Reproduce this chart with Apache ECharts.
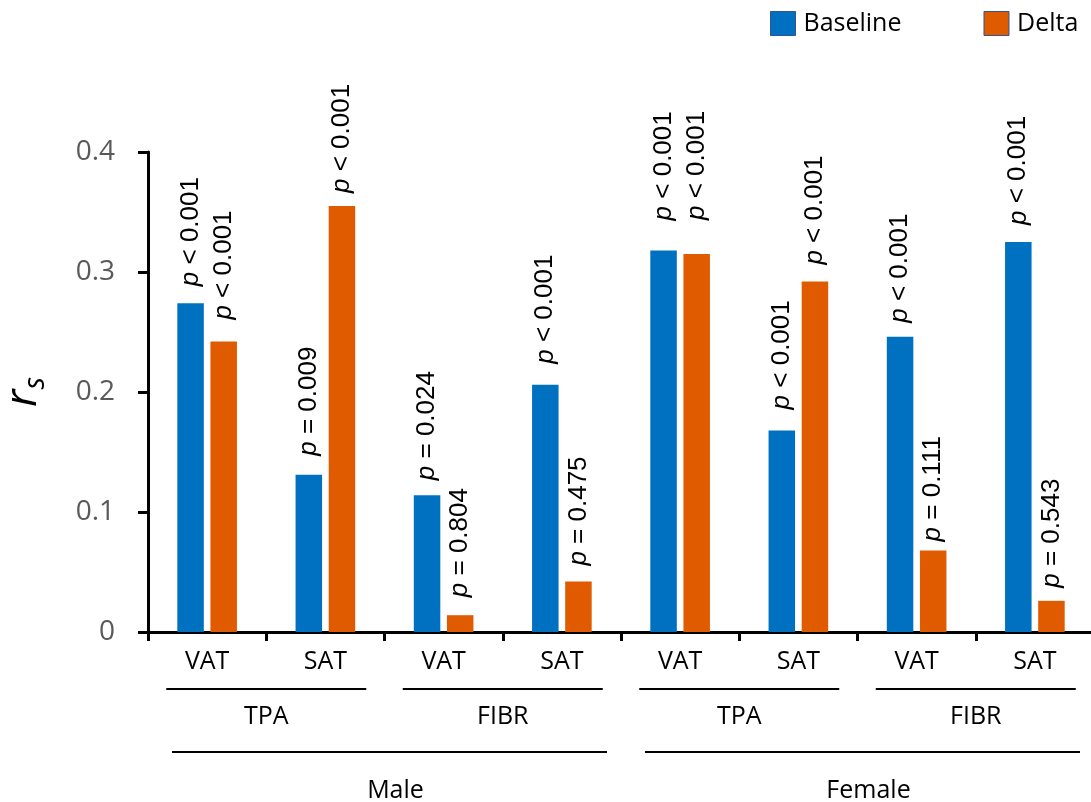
<!DOCTYPE html>
<html>
<head>
<meta charset="utf-8">
<script src="https://cdn.jsdelivr.net/npm/echarts@6/dist/echarts.min.js"></script>
<style>
  html, body { margin: 0; padding: 0; background: #ffffff; }
  #chart { width: 1091px; height: 802px; }
</style>
</head>
<body>
<div id="chart"></div>
<script>
// Spearman correlations of adipose tissue measures, by sex and method
const categories = ['VAT', 'SAT', 'VAT', 'SAT', 'VAT', 'SAT', 'VAT', 'SAT'];
const subGroups = ['TPA', 'FIBR', 'TPA', 'FIBR'];
const groups = ['Male', 'Female'];
const seriesNames = ['Baseline', 'Delta'];
const baseline = [0.274, 0.131, 0.114, 0.206, 0.318, 0.168, 0.246, 0.325];
const delta = [0.242, 0.355, 0.014, 0.042, 0.315, 0.292, 0.068, 0.026];
const baselineP = ['< 0.001', '= 0.009', '= 0.024', '< 0.001', '< 0.001', '< 0.001', '< 0.001', '< 0.001'];
const deltaP = ['< 0.001', '< 0.001', '= 0.804', '= 0.475', '< 0.001', '< 0.001', '= 0.111', '= 0.543'];
const yTicks = [0, 0.1, 0.2, 0.3, 0.4];

// space between a bar top and its rotated p-value text (px)
const baselineLabelGap = [17, 19, 15, 21, 30, 21, 14, 17];
const deltaLabelGap = [22, 13, 18, 16, 34, 17, 9, 13];

const BLUE = '#0070C0';
const ORANGE = '#E05A00';
const UI_FONT = '"Open Sans", "Noto Sans", sans-serif';
const P_FONT = '"Liberation Sans", Arial, sans-serif';

function barData(values, gaps) {
  return values.map((v, i) => ({ value: v, label: { distance: gaps[i] } }));
}

function pLabel(pTexts) {
  return {
    show: true,
    position: 'top',
    rotate: 90,
    align: 'left',
    verticalAlign: 'middle',
    color: '#000',
    fontFamily: P_FONT,
    fontSize: 26,
    formatter: (p) => '{i|p} ' + pTexts[p.dataIndex],
    rich: {
      i: { fontStyle: 'italic', fontFamily: P_FONT, fontSize: 26, color: '#000' }
    }
  };
}

const chart = echarts.init(document.getElementById('chart'), null, { renderer: 'canvas' });

const option = {
  animation: false,
  backgroundColor: '#ffffff',
  legend: {
    data: seriesNames,
    left: 770,
    top: 11,
    padding: 0,
    icon: 'rect',
    itemWidth: 25,
    itemHeight: 24,
    itemGap: 82,
    itemStyle: { borderColor: '#2F5597', borderWidth: 1 },
    textStyle: { fontFamily: UI_FONT, fontSize: 25, color: '#000', padding: [0, 0, 0, 3] }
  },
  grid: { left: 148, top: 152, width: 946, height: 480, containLabel: false, outerBoundsMode: 'none' },
  xAxis: {
    type: 'category',
    data: categories,
    axisLine: { lineStyle: { color: '#000', width: 3 } },
    axisTick: { show: true, length: 9, lineStyle: { color: '#000', width: 3 } },
    axisLabel: { fontFamily: UI_FONT, fontSize: 25, color: '#000', margin: 17, interval: 0 }
  },
  yAxis: {
    type: 'value',
    min: yTicks[0],
    max: yTicks[yTicks.length - 1],
    interval: yTicks[1] - yTicks[0],
    splitLine: { show: false },
    axisLine: { show: true, lineStyle: { color: '#000', width: 3 } },
    axisTick: { show: true, length: 10, lineStyle: { color: '#000', width: 3 } },
    axisLabel: { fontFamily: UI_FONT, fontSize: 28, color: '#595959', margin: 33 },
    name: '{r|r}{s|s}',
    nameLocation: 'middle',
    nameRotate: 90,
    nameGap: 98,
    nameTextStyle: {
      rich: {
        r: { fontFamily: UI_FONT, fontStyle: 'italic', fontSize: 44, color: '#000' },
        s: { fontFamily: UI_FONT, fontStyle: 'italic', fontSize: 29, color: '#000', verticalAlign: 'bottom', padding: [24, 0, 0, 0] }
      }
    }
  },
  series: [
    {
      name: seriesNames[0],
      type: 'bar',
      data: barData(baseline, baselineLabelGap),
      barWidth: 26.5,
      barGap: '25%',
      itemStyle: { color: BLUE },
      label: pLabel(baselineP)
    },
    {
      name: seriesNames[1],
      type: 'bar',
      data: barData(delta, deltaLabelGap),
      barWidth: 26.5,
      itemStyle: { color: ORANGE },
      label: pLabel(deltaP)
    }
  ]
};

chart.setOption(option);

// Nested group captions under the category axis, positioned from the axis scale
function drawGroupCaptions() {
  const xAt = (i) => chart.convertToPixel({ xAxisIndex: 0 }, i);
  const y0 = chart.convertToPixel({ yAxisIndex: 0 }, 0);
  const band = xAt(1) - xAt(0);
  const elements = [];
  const caption = (text, x, y) => ({
    type: 'text',
    style: { text, x, y, align: 'center', verticalAlign: 'middle', fontFamily: UI_FONT, fontSize: 25, fill: '#000' }
  });

  subGroups.forEach((name, k) => {
    const start = xAt(2 * k) - band / 2;
    const end = xAt(2 * k + 1) + band / 2;
    const mid = (start + end) / 2;
    elements.push({
      type: 'line',
      shape: { x1: mid - 100, y1: y0 + 57, x2: mid + 100, y2: y0 + 57 },
      style: { stroke: '#000', lineWidth: 2 }
    });
    elements.push(caption(name, mid, y0 + 85));
  });

  groups.forEach((name, g) => {
    const start = xAt(4 * g) - band / 2;
    const end = xAt(4 * g + 3) + band / 2;
    const x1 = start + 24;
    const x2 = end - 14;
    elements.push({
      type: 'line',
      shape: { x1, y1: y0 + 120, x2, y2: y0 + 120 },
      style: { stroke: '#000', lineWidth: 2 }
    });
    elements.push(caption(name, (x1 + x2) / 2 + 6, y0 + 159));
  });

  chart.setOption({ graphic: elements });
}

drawGroupCaptions();
</script>
</body>
</html>
